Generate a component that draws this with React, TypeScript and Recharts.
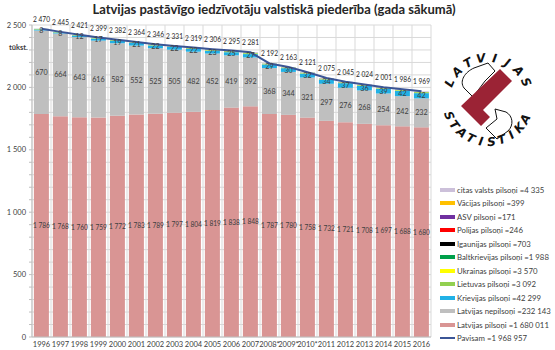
import {
  ComposedChart,
  Bar,
  Line,
  XAxis,
  YAxis,
  CartesianGrid,
  LabelList
} from "recharts";

const years = ["1996","1997","1998","1999","2000","2001","2002","2003","2004","2005","2006","2007","2008*","2009*","2010*","2011","2012","2013","2014","2015","2016"];

// thousands of residents, start of year
const latvianCitizens = [1786,1768,1760,1759,1772,1783,1789,1797,1804,1819,1838,1848,1787,1780,1758,1732,1721,1708,1697,1688,1680];
const nonCitizens = [670,664,643,616,582,552,525,505,482,452,419,392,368,344,321,297,276,268,254,242,232];
const russian = [8,8,12,17,19,21,22,22,22,23,25,27,29,30,32,34,37,36,39,42,42];
const lithuanian = [2.2,2.0,2.2,2.4,2.9,2.6,3.2,2.3,3.4,3.6,3.8,4.0,2.6,2.8,3.0,3.4,3.1,3.2,3.0,3.1,3.1];
const ukrainian = [1.2,1.0,1.2,1.4,1.8,1.6,2.0,1.4,2.2,2.4,2.6,2.8,1.5,1.7,1.9,2.3,2.1,2.4,2.2,3.0,3.6];
const belarusian = [0.9,0.8,0.9,1.0,1.3,1.2,1.4,1.0,1.6,1.7,1.8,2.0,1.2,1.3,1.4,1.6,1.5,1.7,1.6,1.9,2.0];
const estonian = [0.4,0.4,0.4,0.5,0.6,0.5,0.6,0.5,0.7,0.7,0.8,0.8,0.5,0.5,0.6,0.6,0.6,0.7,0.6,0.7,0.7];
const polish = [0.2,0.2,0.2,0.2,0.2,0.2,0.3,0.2,0.3,0.3,0.3,0.3,0.2,0.2,0.2,0.3,0.3,0.3,0.3,0.2,0.2];
const american = [0.1,0.1,0.1,0.1,0.1,0.1,0.1,0.1,0.1,0.1,0.2,0.2,0.1,0.1,0.1,0.2,0.2,0.2,0.2,0.2,0.2];
const german = [0.1,0.1,0.1,0.1,0.2,0.2,0.2,0.1,0.2,0.2,0.3,0.3,0.3,0.3,0.3,0.4,0.3,0.4,0.4,0.4,0.4];
const otherCountries = [1.0,0.4,0.9,1.3,1.9,1.7,2.2,1.4,2.6,2.9,3.2,3.6,1.5,1.9,2.3,3.1,3.0,3.1,2.7,4.5,4.3];
const totals = [2470,2445,2421,2399,2382,2364,2346,2331,2319,2306,2295,2281,2192,2163,2121,2075,2045,2024,2001,1986,1969];

const yTicks = [0,100,200,300,400,500,600,700,800,900,1000,1100,1200,1300,1400,1500,1600,1700,1800,1900,2000,2100,2200,2300,2400,2500];

const series = [
  { key:"lv", name:"Latvijas pilsoņi =1 680 011", color:"#d99594", values:latvianCitizens, label:true },
  { key:"np", name:"Latvijas nepilsoņi =232 143", color:"#bfbfbf", values:nonCitizens, label:true },
  { key:"ru", name:"Krievijas pilsoņi =42 299", color:"#21b1e6", values:russian, label:true },
  { key:"lt", name:"Lietuvas pilsoņi =3 092", color:"#92d050", values:lithuanian },
  { key:"ua", name:"Ukrainas pilsoņi =3 570", color:"#ffff00", values:ukrainian },
  { key:"by", name:"Baltkrievijas pilsoņi =1 988", color:"#00a04a", values:belarusian },
  { key:"ee", name:"Igaunijas pilsoņi =703", color:"#000000", values:estonian },
  { key:"pl", name:"Polijas pilsoņi =246", color:"#ff0000", values:polish },
  { key:"us", name:"ASV pilsoņi =171", color:"#7030a0", values:american },
  { key:"de", name:"Vācijas pilsoņi =399", color:"#ffc000", values:german },
  { key:"ot", name:"citas valsts pilsoņi =4 335", color:"#ccc0da", values:otherCountries }
];

const totalName = "Pavisam =1 968 957";
const totalColor = "#3b5596";

const data = years.map((year, i) => {
  const row:Record<string, string|number> = { year, total:totals[i] };
  series.forEach(s => { row[s.key] = s.values[i]; });
  return row;
});

const FONT = "Lato, 'Liberation Sans', sans-serif";

function fmt(v:any){
  const n = Number(v);
  if (n >= 1000) return `${Math.floor(n / 1000)}\u00a0${String(n % 1000).padStart(3, "0")}`;
  return String(n);
}

const topWord = "LATVIJAS";
const bottomWord = "STATISTIKA";

function Logo(){
  const cx = 488, cy = 100, r = 42;
  const top = topWord.split("").map((ch, i) => {
    const a = -156 + i * (131 / (topWord.length - 1));
    const rad = a * Math.PI / 180;
    return { ch, x: cx + r * Math.cos(rad), y: cy + r * Math.sin(rad), rot: a + 90 };
  });
  const bottom = bottomWord.split("").map((ch, i) => {
    const a = 158 - i * (131 / (bottomWord.length - 1));
    const rad = a * Math.PI / 180;
    return { ch, x: cx + r * Math.cos(rad), y: cy + r * Math.sin(rad), rot: a - 90 };
  });
  return (
    <svg width={555} height={350} style={{position:"absolute",left:0,top:0,pointerEvents:"none"}}>
      <path d="M473,97 L464,88 C459,81 465,72 474,68 L488,63 L495,71 L485,81 Z" fill="#fff" stroke="#111" strokeWidth={1}/>
      <path d="M495,109 L506,112 C513,116 514,125 508,131 L497,139 L486,128 L497,119 Z" fill="#fff" stroke="#111" strokeWidth={1}/>
      <polygon points="500,69 512,81 483,110 490,117 481,126 461,106" fill="#9b2335"/>
      {[...top, ...bottom].map((l, i) => (
        <text
          key={i}
          x={l.x}
          y={l.y}
          transform={`rotate(${l.rot} ${l.x} ${l.y})`}
          textAnchor="middle"
          dominantBaseline="central"
          fontSize={12}
          fontWeight={900}
          fontStyle="italic"
          fontFamily="'DejaVu Sans', sans-serif"
          fill="#111"
        >{l.ch}</text>
      ))}
    </svg>
  );
}

export default function App(){

  const legendItems = [...series].reverse();

  return(

    <div style={{position:"absolute",left:0,top:0,width:555,height:350,background:"#fff",fontFamily:FONT,overflow:"hidden"}}>

      <div style={{position:"absolute",left:0,top:1,width:548,textAlign:"center",fontSize:13,fontWeight:700,color:"#262626"}}>
        Latvijas pastāvīgo iedzīvotāju valstiskā piederība (gada sākumā)
      </div>

      <div style={{position:"absolute",left:9,top:43,fontSize:7.5,fontWeight:700,color:"#404040"}}>tūkst.</div>

      <ComposedChart
        width={555}
        height={350}
        data={data}
        margin={{top:25,right:124,bottom:0,left:2}}
        barCategoryGap="10%"
        style={{position:"absolute",left:0,top:0}}
      >

        <CartesianGrid
          stroke="#d9d9d9"
          verticalCoordinatesGenerator={({offset}:any) => years.map((_, i) => offset.left + i * offset.width / years.length).concat(offset.left + offset.width)}
        />

        <XAxis
          dataKey="year"
          interval={0}
          tickLine={false}
          tickSize={3}
          height={13}
          axisLine={{stroke:"#bfbfbf"}}
          tick={{fontSize:7.5,fill:"#404040",fontFamily:FONT}}
        />

        <YAxis
          width={30}
          domain={[0,2500]}
          ticks={yTicks}
          interval={0}
          tickSize={3}
          tickMargin={3}
          axisLine={{stroke:"#bfbfbf"}}
          tickLine={{stroke:"#bfbfbf"}}
          tickFormatter={(v:number) => v % 500 === 0 ? fmt(v) : ""}
          tick={{fontSize:7.5,fill:"#404040",fontFamily:FONT}}
        />

        {series.map(s => (
          <Bar key={s.key} dataKey={s.key} stackId="a" fill={s.color} isAnimationActive={false}>
            {s.label && (
              <LabelList
                dataKey={s.key}
                position="center"
                formatter={fmt}
                style={{fontSize:s.key === "lv" ? 6.6 : 7.2,fill:"#404040",fontFamily:FONT}}
              />
            )}
          </Bar>
        ))}

        <Line
          dataKey="total"
          type="linear"
          stroke={totalColor}
          strokeWidth={2}
          dot={false}
          isAnimationActive={false}
        >
          <LabelList
            dataKey="total"
            position="top"
            offset={7}
            formatter={fmt}
            style={{fontSize:6.6,fill:"#262626",fontFamily:FONT}}
          />
        </Line>

      </ComposedChart>

      <div style={{position:"absolute",left:440,top:183}}>
        {legendItems.map(s => (
          <div key={s.key} style={{display:"flex",alignItems:"center",height:13.5,fontSize:7.8,color:"#404040",whiteSpace:"nowrap"}}>
            <span style={{display:"inline-block",width:15,height:4,background:s.color,marginRight:2}}/>
            {s.name}
          </div>
        ))}
        <div style={{display:"flex",alignItems:"center",height:13.5,fontSize:7.8,color:"#404040",whiteSpace:"nowrap"}}>
          <span style={{display:"inline-block",width:15,height:2,background:totalColor,marginRight:2}}/>
          {totalName}
        </div>
      </div>

      <Logo/>

    </div>

  );

}
